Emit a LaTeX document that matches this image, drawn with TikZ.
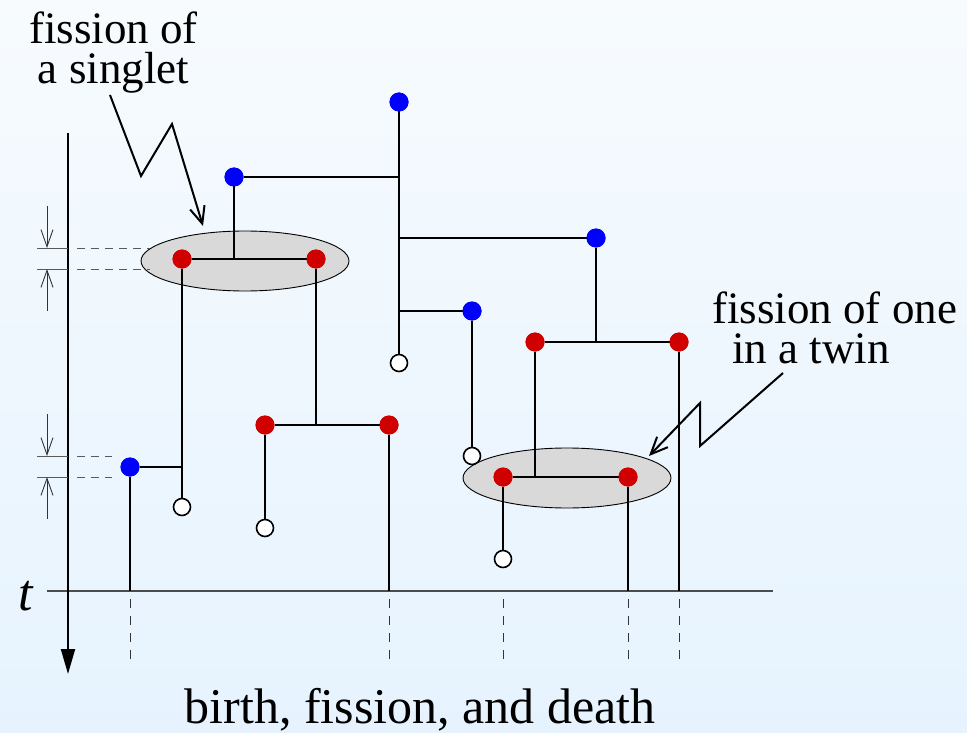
\documentclass[tikz,border=0pt]{standalone}
\usepackage{fontspec}
\setmainfont{Liberation Serif}
\usetikzlibrary{arrows.meta,shapes.geometric}
\definecolor{bgtop}{RGB}{247,251,254}
\definecolor{bgbot}{RGB}{230,243,254}
\definecolor{dotred}{RGB}{208,0,0}
\definecolor{dotblue}{RGB}{0,0,255}
\definecolor{ellfill}{RGB}{217,217,217}
\begin{document}
\begin{tikzpicture}[x=1pt,y=-1pt,
  line/.style={line width=2pt,black},
  bdot/.style={circle,fill=dotblue,minimum size=19pt,inner sep=0pt,outer sep=0pt},
  rdot/.style={circle,fill=dotred,minimum size=19pt,inner sep=0pt,outer sep=0pt},
  wdot/.style={circle,draw=black,line width=1.6pt,fill=white,minimum size=17pt,inner sep=0pt,outer sep=0pt},
  pair/.style={ellipse,draw=black,line width=0.9pt,fill=ellfill,minimum width=208pt,minimum height=60pt,inner sep=0pt},
  tickline/.style={line width=1pt,black!65},
  refdash/.style={line width=1pt,black!65,dash pattern=on 8pt off 6pt},
  lowdash/.style={line width=1pt,black!80,dash pattern=on 9pt off 8pt},
  measarrow/.style={line width=0.9pt,black!80,-{Straight Barb[length=17pt,width=12pt,line width=0.9pt]}},
  callout/.style={line width=2pt,black,line join=miter,-{Straight Barb[length=17pt,width=15pt,line width=2pt]}},
  labfont/.style={font=\fontsize{45}{40}\selectfont,inner sep=0pt},
]
% background
\shade[top color=bgtop,bottom color=bgbot] (0,0) rectangle (967,733);
\useasboundingbox (0,0) rectangle (967,733);

% ellipses (twin pairs)
\node[pair] (E1) at (245,261) {};
\node[pair] (E2) at (567,478) {};

% axes coordinates
\coordinate (aTop) at (68,133);
\coordinate (aBot) at (68,674);
\coordinate (tL) at (47,591);
\coordinate (tR) at (773,591);

% dots
\node[bdot] (B1) at (399,102) {};
\node[bdot] (B2) at (234,177) {};
\node[bdot] (B3) at (596,238) {};
\node[bdot] (B4) at (472,311) {};
\node[bdot] (B5) at (130,467) {};
\node[rdot] (R1) at (182,259) {};
\node[rdot] (R2) at (316,259) {};
\node[rdot] (R3) at (265,425) {};
\node[rdot] (R4) at (389,425) {};
\node[rdot] (R5) at (535,342) {};
\node[rdot] (R6) at (679,342) {};
\node[rdot] (R7) at (503,477) {};
\node[rdot] (R8) at (628,477) {};
\node[wdot] (W1) at (399,363) {};
\node[wdot] (W2) at (472,456) {};
\node[wdot] (W3) at (182,507) {};
\node[wdot] (W4) at (265,528) {};
\node[wdot] (W5) at (503,559) {};

% horizontal time axis
\draw[line width=1.3pt,black!70] (tL) -- (tR);

% lineage lines
\draw[line] (B1) -- (W1);
\draw[line] (B2) -- (B2 -| B1);
\draw[line] (B3) -- (B3 -| B1);
\draw[line] (B4) -- (B4 -| B1);
\draw[line] (B2) -- (B2 |- R1);
\draw[line] (R1) -- (R2);
\draw[line] (R1) -- (W3);
\draw[line] (B5) -- (B5 -| R1);
\draw[line] (B5) -- (B5 |- tL);
\draw[line] (R2) -- (R2 |- R3);
\draw[line] (R3) -- (R4);
\draw[line] (R3) -- (W4);
\draw[line] (R4) -- (R4 |- tL);
\draw[line] (B3) -- (B3 |- R5);
\draw[line] (R5) -- (R6);
\draw[line] (B4) -- (W2);
\draw[line] (R5) -- (R5 |- R7);
\draw[line] (R7) -- (R8);
\draw[line] (R7) -- (W5);
\draw[line] (R8) -- (R8 |- tL);
\draw[line] (R6) -- (R6 |- tL);

% redraw dots on top of lines
\node[bdot] at (B1) {};
\node[bdot] at (B2) {};
\node[bdot] at (B3) {};
\node[bdot] at (B4) {};
\node[bdot] at (B5) {};
\node[rdot] at (R1) {};
\node[rdot] at (R2) {};
\node[rdot] at (R3) {};
\node[rdot] at (R4) {};
\node[rdot] at (R5) {};
\node[rdot] at (R6) {};
\node[rdot] at (R7) {};
\node[rdot] at (R8) {};

% dashed projections below the t axis
\foreach \n in {B5,R4,W5,R8,R6}{
  \draw[lowdash] (\n |- 0,599) -- (\n |- 0,665);
}

% vertical time axis
\draw[line width=2pt,-{Triangle[length=25pt,width=14pt]}] (aTop) -- (aBot);

% measurement marks (upper)
\draw[tickline] (37,248) -- (68,248);
\draw[tickline] (37,269) -- (68,269);
\draw[refdash] (77,248) -- (150,248);
\draw[refdash] (77,269) -- (150,269);
\draw[measarrow] (47,206) -- (47,248);
\draw[measarrow] (47,311) -- (47,269);
% measurement marks (lower)
\draw[tickline] (37,456) -- (68,456);
\draw[tickline] (37,477) -- (68,477);
\draw[refdash] (77,456) -- (112,456);
\draw[refdash] (77,477) -- (112,477);
\draw[measarrow] (47,414) -- (47,456);
\draw[measarrow] (47,519) -- (47,477);

% labels
\node[labfont,align=center,anchor=north] (L1) at (113.5,11.5) {fission of\\a singlet};
\node[labfont,align=left,anchor=north west] (L2) at (712,291.5) {fission of one\\\hspace*{20pt}in a twin};
\node[font=\fontsize{52}{52}\selectfont\itshape,anchor=base,inner sep=0pt] (tlab) at (26,610) {t};
\node[font=\fontsize{50}{50}\selectfont,anchor=base,inner sep=0pt] (title) at (420,723) {birth, fission, and death};

% callouts
\coordinate (c1s) at (110,95);
\coordinate (c1m) at (141,176);
\coordinate (c1n) at (172,124);
\coordinate (c1e) at (203,226);
\draw[callout] (c1s) -- (c1m) -- (c1n) -- (c1e);
\coordinate (c2s) at (783,373);
\coordinate (c2m) at (700,446);
\coordinate (c2n) at (700,403);
\coordinate (c2e) at (649,456);
\draw[callout] (c2s) -- (c2m) -- (c2n) -- (c2e);
\end{tikzpicture}
\end{document}
